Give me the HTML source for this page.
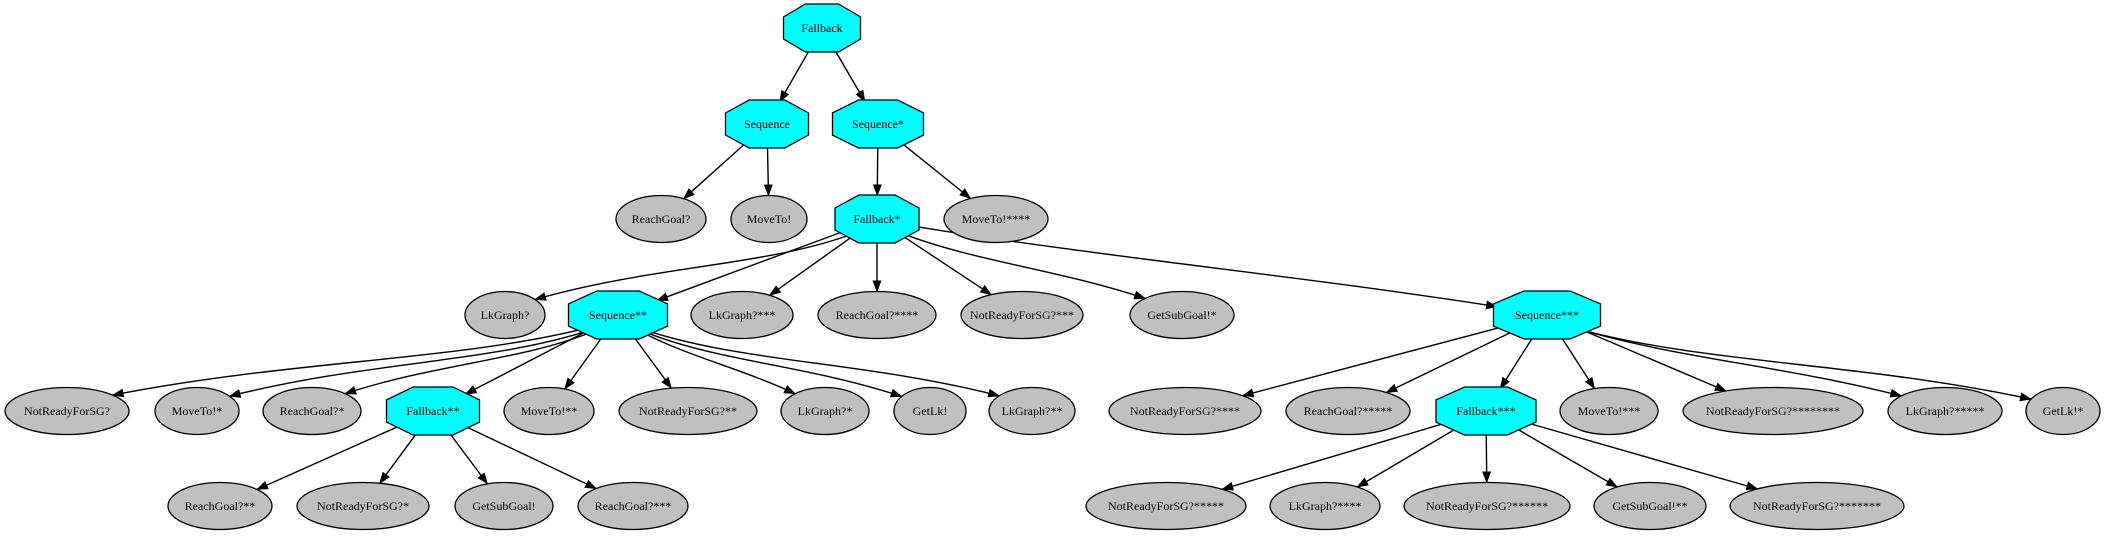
<!DOCTYPE html>
<html><head><meta charset="utf-8"><style>
html,body{margin:0;padding:0;background:#fff;width:2104px;height:539px;overflow:hidden}
svg text{font-family:"Liberation Serif",serif;font-size:12px;fill:#000}
</style></head><body>
<svg id="g" width="2104" height="539" xmlns="http://www.w3.org/2000/svg">
<defs><marker id="a" markerWidth="12" markerHeight="9" refX="11" refY="4.5" orient="auto" markerUnits="userSpaceOnUse"><path d="M0,0 L12,4.5 L0,9 z" fill="#000"/></marker></defs>
</svg>
<script>
var R=[28,124,219,315,411,506];
var N={
F:[822,0,77,'o','Fallback'],
S:[767,1,83,'o','Sequence'],
S1:[878,1,91,'o','Sequence*'],
RG:[661,2,45,'e','ReachGoal?'],
MT:[769,2,38,'e','MoveTo!'],
F1:[877,2,84,'o','Fallback*'],
MT4:[996,2,52,'e','MoveTo!****'],
LG:[505,3,40,'e','LkGraph?'],
S2:[618,3,99,'o','Sequence**'],
LG3:[742,3,51,'e','LkGraph?***'],
RG4:[877,3,59,'e','ReachGoal?****'],
NR3:[1022,3,61,'e','NotReadyForSG?***'],
GS1:[1182,3,52,'e','GetSubGoal!*'],
S3:[1547,3,107,'o','Sequence***'],
NR:[67,4,62,'e','NotReadyForSG?'],
MT1:[197,4,42,'e','MoveTo!*'],
RG1:[312,4,49,'e','ReachGoal?*'],
F2:[433,4,93,'o','Fallback**'],
MT2:[549,4,45,'e','MoveTo!**'],
NR2:[688,4,69,'e','NotReadyForSG?**'],
LG1:[825,4,44,'e','LkGraph?*'],
GL:[930,4,36,'e','GetLk!'],
LG2:[1032,4,43,'e','LkGraph?**'],
NR4:[1185,4,76,'e','NotReadyForSG?****'],
RG5:[1348,4,62,'e','ReachGoal?*****'],
F3:[1486,4,100,'o','Fallback***'],
MT3:[1609,4,49,'e','MoveTo!***'],
NR8:[1773,4,90,'e','NotReadyForSG?********'],
LG5:[1945,4,57,'e','LkGraph?*****'],
GL1:[2063,4,37,'e','GetLk!*'],
RG2:[220,5,52,'e','ReachGoal?**'],
NR1:[363,5,66,'e','NotReadyForSG?*'],
GS:[504,5,49,'e','GetSubGoal!'],
RG3:[633,5,55,'e','ReachGoal?***'],
NR5:[1166,5,80,'e','NotReadyForSG?*****'],
LG4:[1325,5,55,'e','LkGraph?****'],
NR6:[1487,5,83,'e','NotReadyForSG?******'],
GS2:[1650,5,56,'e','GetSubGoal!**'],
NR7:[1817,5,87,'e','NotReadyForSG?*******']
};
for(var k in N)N[k][1]=R[N[k][1]];
var E={F:['S','S1'],S:['RG','MT'],S1:['F1','MT4'],F1:['LG','S2','LG3','RG4','NR3','GS1','S3'],
S2:['NR','MT1','RG1','F2','MT2','NR2','LG1','GL','LG2'],F2:['RG2','NR1','GS','RG3'],
S3:['NR4','RG5','F3','MT3','NR8','LG5','GL1'],F3:['NR5','LG4','NR6','GS2','NR7']};
var CUR={'F1-LG':1,'F1-GS1':0.6,'F1-S3':0.3,'S2-NR':1,'S2-MT1':1,'S2-RG1':0.8,'S2-LG1':0.4,'S2-GL':0.8,'S2-LG2':1,'S3-LG5':0.6,'S3-GL1':1};
var svg=document.getElementById('g'),ns='http://www.w3.org/2000/svg',H=47;
function rad(n,dx,dy){var rx=n[3]=='o'?n[2]/2:n[2],ry=H/2;var t=Math.atan2(dy,dx);
 var c=Math.cos(t),s=Math.sin(t);return 1/Math.sqrt(c*c/(rx*rx)+s*s/(ry*ry));}
function el(t,a){var e=document.createElementNS(ns,t);for(var k in a)e.setAttribute(k,a[k]);svg.appendChild(e);return e;}
for(var p in E){E[p].forEach(function(c){var a=N[p],b=N[c];var dx=b[0]-a[0],dy=b[1]-a[1];
 var f=CUR[p+'-'+c];
 if(f){
  var sx=dx,sy=dy*(1+1.2*f),L1=Math.hypot(sx,sy),r1=rad(a,sx,sy);
  var x0=a[0]+sx/L1*r1,y0=a[1]+sy/L1*r1;
  var ex=dx*(1-0.5*f),ey=dy,L2=Math.hypot(ex,ey),r2=rad(b,ex,ey);
  var x3=b[0]-ex/L2*r2,y3=b[1]-ey/L2*r2;
  var DX=x3-x0,DY=y3-y0;
  var d='M'+x0+','+y0+' C'+(x0+DX*(0.33-0.05*f))+','+(y0+DY*(0.33+0.15*f))+' '+(x3-DX*(0.33+0.05*f))+','+(y3-DY*(0.33+0.2*f))+' '+x3+','+y3;
  el('path',{d:d,fill:'none',stroke:'#000','stroke-width':1.4,'marker-end':'url(#a)'});
 } else {
 var L=Math.hypot(dx,dy);
 var r1=rad(a,dx,dy),r2=rad(b,dx,dy);var ux=dx/L,uy=dy/L;
 el('line',{x1:a[0]+ux*r1,y1:a[1]+uy*r1,x2:b[0]-ux*r2,y2:b[1]-uy*r2,stroke:'#000','stroke-width':1.4,'marker-end':'url(#a)'});}});}
for(var k in N){var n=N[k];if(n[3]=='e'){el('ellipse',{cx:n[0],cy:n[1],rx:n[2],ry:H/2,fill:'#c0c0c0',stroke:'#000','stroke-width':1.3});}
 else{var w=n[2],h=48,x=n[0],y=n[1],a=0.215*w,b=0.23*h;
 var pts=[[x-a,y-h/2],[x+a,y-h/2],[x+w/2,y-b],[x+w/2,y+b],[x+a,y+h/2],[x-a,y+h/2],[x-w/2,y+b],[x-w/2,y-b]].map(function(q){return q.join(',')}).join(' ');
 el('polygon',{points:pts,fill:'#00ffff',stroke:'#000','stroke-width':1.3});}
 var t=el('text',{x:n[0],y:n[1]+4,'text-anchor':'middle'});t.textContent=n[4];}
</script>
</body></html>
